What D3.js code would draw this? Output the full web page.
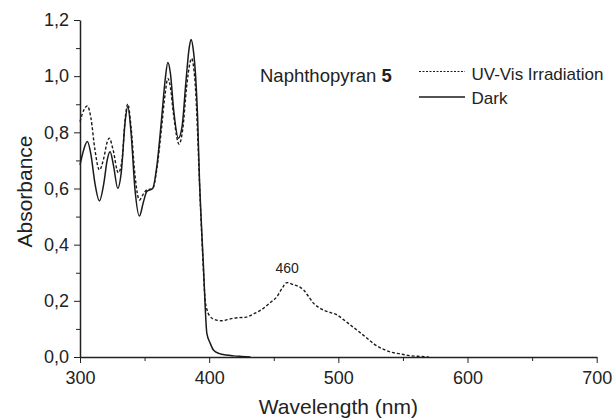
<!DOCTYPE html>
<html>
<head>
<meta charset="utf-8">
<script src="https://cdn.jsdelivr.net/npm/d3@7"></script>
<style>
  body { margin: 0; background: #fff; }
  text { font-family: "Liberation Sans", Arial, sans-serif; }
  .axis path, .axis line { stroke: #222; }
  .axis text { fill: #222; }
</style>
</head>
<body>
<div id="chart"></div>
<script>
// Data
const darkWavelength = [300, 303, 305.7, 308.5, 311.5, 315, 318.5, 321, 323.3, 326, 329.2, 332, 335, 337, 339.5, 342.5, 346, 349, 351.7, 356.3, 359.5, 363, 366, 368, 370, 372.5, 376.2, 379, 382, 384.5, 386, 387.8, 389.5, 391, 392.5, 393.6, 395.6, 397, 398.2, 400.8, 403.3, 408, 413, 419, 425, 432];
const darkAbsorbance = [0.684, 0.74, 0.767, 0.72, 0.62, 0.556, 0.62, 0.70, 0.731, 0.68, 0.601, 0.66, 0.84, 0.891, 0.80, 0.60, 0.502, 0.55, 0.589, 0.60, 0.68, 0.84, 0.99, 1.049, 1.01, 0.88, 0.779, 0.82, 0.98, 1.10, 1.131, 1.09, 1.0, 0.86, 0.63, 0.51, 0.32, 0.17, 0.084, 0.049, 0.025, 0.012, 0.007, 0.004, 0.002, 0];

const uvWavelength = [300, 303, 305.7, 308.5, 311.5, 315, 318.5, 321, 322.7, 325.5, 329.7, 332.5, 335, 337, 339.5, 342.5, 346, 349, 351.7, 356.3, 359.5, 363, 366, 368, 370, 372.5, 376.7, 379.5, 382.5, 384.8, 386.4, 388, 389.5, 391, 392.5, 393.6, 395, 396.9, 398.5, 400.8, 404, 409.8, 414, 418.8, 423, 427.9, 435, 442, 447, 452.5, 456.5, 460.2, 465, 470.5, 473.1, 477, 480.9, 484.7, 488.6, 494, 499, 504, 509.3, 516, 522.2, 528, 535.1, 541, 548, 555, 563.6, 570];
const uvAbsorbance = [0.838, 0.88, 0.894, 0.85, 0.74, 0.666, 0.71, 0.765, 0.779, 0.74, 0.656, 0.70, 0.85, 0.901, 0.82, 0.65, 0.559, 0.58, 0.595, 0.60, 0.67, 0.81, 0.94, 0.992, 0.96, 0.86, 0.758, 0.81, 0.96, 1.04, 1.063, 1.03, 0.95, 0.80, 0.62, 0.50, 0.36, 0.203, 0.165, 0.144, 0.134, 0.129, 0.133, 0.138, 0.14, 0.141, 0.155, 0.173, 0.193, 0.215, 0.245, 0.265, 0.258, 0.248, 0.239, 0.215, 0.191, 0.177, 0.167, 0.158, 0.15, 0.133, 0.114, 0.09, 0.067, 0.045, 0.027, 0.017, 0.011, 0.005, 0.002, 0];

const xTicks = [300, 400, 500, 600, 700];
const xMinorTicks = [350, 450, 550, 650];
const yTicks = [0, 0.2, 0.4, 0.6, 0.8, 1.0, 1.2];
const yMinorTicks = [0.1, 0.3, 0.5, 0.7, 0.9, 1.1];

const peakLabel = { wavelength: 460, absorbance: 0.265, text: "460" };

const width = 616;
const height = 420;
const margin = { top: 20, right: 19.3, bottom: 63, left: 80 };

const svg = d3.select("#chart").append("svg")
    .attr("width", width)
    .attr("height", height);

const x = d3.scaleLinear()
    .domain([300, 700])
    .range([margin.left, width - margin.right]);

const y = d3.scaleLinear()
    .domain([0, 1.2])
    .range([height - margin.bottom, margin.top]);

const commaFormat = d => d3.format(".1f")(d).replace(".", ",");

// Minor ticks first so the major axis sits on top
svg.append("g")
    .attr("class", "axis")
    .attr("transform", "translate(0," + y(0) + ")")
    .call(d3.axisBottom(x).tickValues(xMinorTicks).tickSize(4).tickFormat(""))
    .call(g => g.select(".domain").remove());

svg.append("g")
    .attr("class", "axis")
    .attr("transform", "translate(" + x(300) + ",0)")
    .call(d3.axisLeft(y).tickValues(yMinorTicks).tickSize(4).tickFormat(""))
    .call(g => g.select(".domain").remove());

svg.append("g")
    .attr("class", "axis")
    .attr("transform", "translate(0," + y(0) + ")")
    .call(d3.axisBottom(x).tickValues(xTicks).tickSize(6).tickSizeOuter(0).tickPadding(8))
    .call(g => g.selectAll("text").attr("font-size", "18px"))
    .call(g => g.select(".domain").attr("stroke-width", 1.5));

svg.append("g")
    .attr("class", "axis")
    .attr("transform", "translate(" + x(300) + ",0)")
    .call(d3.axisLeft(y).tickValues(yTicks).tickSize(6).tickSizeOuter(0).tickPadding(5).tickFormat(commaFormat))
    .call(g => g.selectAll("text").attr("font-size", "18px"))
    .call(g => g.select(".domain").attr("stroke-width", 1.5));

// Axis titles
svg.append("text")
    .attr("x", (x(300) + x(700)) / 2)
    .attr("y", 414)
    .attr("text-anchor", "middle")
    .attr("font-size", "21px")
    .attr("fill", "#222")
    .text("Wavelength (nm)");

svg.append("text")
    .attr("transform", "rotate(-90)")
    .attr("x", -191.5)
    .attr("y", 31.5)
    .attr("text-anchor", "middle")
    .attr("font-size", "21px")
    .attr("fill", "#222")
    .text("Absorbance");

// Line generator
const line = d3.line()
    .x(d => x(d[0]))
    .y(d => y(d[1]))
    .curve(d3.curveMonotoneX);

const darkData = d3.zip(darkWavelength, darkAbsorbance);
const uvData = d3.zip(uvWavelength, uvAbsorbance);

svg.append("path")
    .datum(uvData)
    .attr("fill", "none")
    .attr("stroke", "#1a1a1a")
    .attr("stroke-width", 1.4)
    .attr("stroke-dasharray", "3,2")
    .attr("d", line);

svg.append("path")
    .datum(darkData)
    .attr("fill", "none")
    .attr("stroke", "#1a1a1a")
    .attr("stroke-width", 1.5)
    .attr("d", line);

// Peak annotation
svg.append("text")
    .attr("x", x(peakLabel.wavelength) + 0.5)
    .attr("y", y(peakLabel.absorbance) - 10)
    .attr("text-anchor", "middle")
    .attr("font-size", "14px")
    .attr("fill", "#222")
    .text(peakLabel.text);

// Legend
const legend = svg.append("g")
    .attr("class", "legend");

const title = legend.append("text")
    .attr("x", 260)
    .attr("y", 82)
    .attr("font-size", "18.5px")
    .attr("fill", "#222");
title.append("tspan").text("Naphthopyran ");
title.append("tspan").attr("font-weight", "bold").text("5");

legend.append("line")
    .attr("x1", 419)
    .attr("x2", 465)
    .attr("y1", 71.5)
    .attr("y2", 71.5)
    .attr("stroke", "#1a1a1a")
    .attr("stroke-width", 1.2)
    .attr("stroke-dasharray", "2,1.5");

legend.append("text")
    .attr("x", 471.5)
    .attr("y", 79.5)
    .attr("font-size", "17px")
    .attr("fill", "#222")
    .text("UV-Vis Irradiation");

legend.append("line")
    .attr("x1", 419)
    .attr("x2", 465)
    .attr("y1", 97)
    .attr("y2", 97)
    .attr("stroke", "#1a1a1a")
    .attr("stroke-width", 1.5);

legend.append("text")
    .attr("x", 471.5)
    .attr("y", 103.5)
    .attr("font-size", "17px")
    .attr("fill", "#222")
    .text("Dark");
</script>
</body>
</html>
